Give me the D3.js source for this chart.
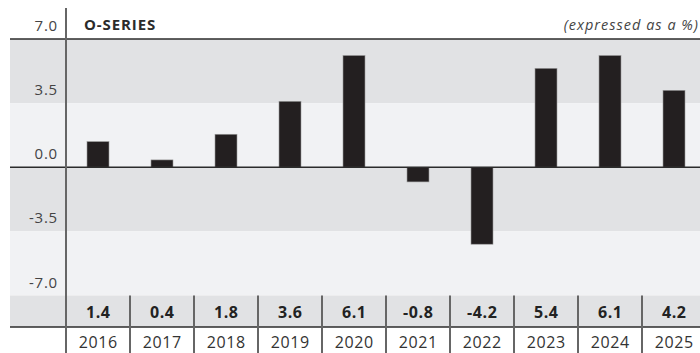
<!DOCTYPE html>
<html>
<head>
<meta charset="utf-8">
<script src="https://cdn.jsdelivr.net/npm/d3@7"></script>
<style>
  html, body { margin: 0; padding: 0; background: #fff; }
  svg { display: block; font-family: "Open Sans", "Noto Sans", sans-serif; }
</style>
</head>
<body>
<svg id="chart" width="700" height="353"></svg>
<script>
const years = ["2016", "2017", "2018", "2019", "2020", "2021", "2022", "2023", "2024", "2025"];
const values = [1.4, 0.4, 1.8, 3.6, 6.1, -0.8, -4.2, 5.4, 6.1, 4.2];
const tickValues = [7, 3.5, 0, -3.5, -7];
const title = "O-SERIES";
const unitNote = "(expressed as a %)";

const W = 700, H = 353;
const svg = d3.select("#chart");

// one decimal, plain hyphen for negatives
const fmt = v => d3.format(".1f")(v).replace("\u2212", "-");

const plotLeft = 66, colWidth = 64;
const x = d3.scaleBand()
  .domain(years)
  .range([plotLeft, plotLeft + colWidth * years.length])
  .paddingInner(0).paddingOuter(0);

const y = d3.scaleLinear().domain([-7, 7]).range([295.5, 39]);

const bandLeft = 10;
const darkBand = "#e1e2e4", lightBand = "#f1f2f4";

// Alternating horizontal bands between tick levels
const bandPairs = d3.pairs(tickValues);
svg.append("g").selectAll("rect")
  .data(bandPairs)
  .join("rect")
  .attr("x", bandLeft)
  .attr("y", d => y(d[0]))
  .attr("width", W - bandLeft)
  .attr("height", d => y(d[1]) - y(d[0]))
  .attr("fill", (d, i) => i % 2 === 0 ? darkBand : lightBand);

// Value row band
const rowTop = y(-7), rowBottom = 327;
svg.append("rect")
  .attr("x", bandLeft).attr("y", rowTop)
  .attr("width", W - bandLeft).attr("height", rowBottom - rowTop)
  .attr("fill", darkBand);

// Bars
const barW = 22;
const rows = years.map((yr, i) => ({ yr, v: values[i] }));
svg.append("g").selectAll("rect")
  .data(rows)
  .join("rect")
  .attr("x", d => x(d.yr) + x.bandwidth() / 2 - barW / 2)
  .attr("y", d => y(Math.max(0, d.v)))
  .attr("width", barW)
  .attr("height", d => Math.abs(y(d.v) - y(0)))
  .attr("fill", "#231f20")
  .attr("stroke", "#9a9a9a")
  .attr("stroke-width", 0.6);

// Top rule, zero line and bottom rule of the value row
[y(7), y(0), rowBottom].forEach(yy => {
  svg.append("line")
    .attr("x1", bandLeft).attr("x2", W)
    .attr("y1", yy).attr("y2", yy)
    .attr("stroke", "#2b2b2b").attr("stroke-width", 1.5);
});

// Column separators in the value and year rows
svg.append("g").selectAll("line")
  .data(years.slice(1))
  .join("line")
  .attr("x1", d => x(d)).attr("x2", d => x(d))
  .attr("y1", rowTop).attr("y2", H)
  .attr("stroke", "#666").attr("stroke-width", 2);

// Vertical axis line
svg.append("line")
  .attr("x1", plotLeft).attr("x2", plotLeft)
  .attr("y1", 8).attr("y2", H)
  .attr("stroke", "#666").attr("stroke-width", 2);

// Y tick labels, sitting just above their gridlines
svg.append("g").selectAll("text")
  .data(tickValues)
  .join("text")
  .attr("x", 58)
  .attr("y", d => y(d) - 8)
  .attr("text-anchor", "end")
  .attr("font-size", 15)
  .attr("letter-spacing", 0.8)
  .attr("fill", "#444")
  .text(d => fmt(d));

// Value labels
svg.append("g").selectAll("text")
  .data(rows)
  .join("text")
  .attr("x", d => x(d.yr) + x.bandwidth() / 2 + 0.3)
  .attr("y", 318)
  .attr("text-anchor", "middle")
  .attr("font-size", 16)
  .attr("font-weight", "bold")
  .attr("letter-spacing", 0.6)
  .attr("fill", "#222")
  .text(d => fmt(d.v));

// Year labels
svg.append("g").selectAll("text")
  .data(years)
  .join("text")
  .attr("x", d => x(d) + x.bandwidth() / 2 + 0.3)
  .attr("y", 348)
  .attr("text-anchor", "middle")
  .attr("font-size", 16)
  .attr("letter-spacing", 0.6)
  .attr("fill", "#333")
  .text(d => d);

// Title and unit note
svg.append("text")
  .attr("x", 84).attr("y", 30)
  .attr("font-size", 15).attr("font-weight", "bold")
  .attr("letter-spacing", 0.9)
  .attr("fill", "#2b2b2b")
  .text(title);

svg.append("text")
  .attr("x", 699).attr("y", 30)
  .attr("text-anchor", "end")
  .attr("font-size", 14.5).attr("font-style", "italic")
  .attr("letter-spacing", 1)
  .attr("fill", "#444")
  .text(unitNote);
</script>
</body>
</html>
